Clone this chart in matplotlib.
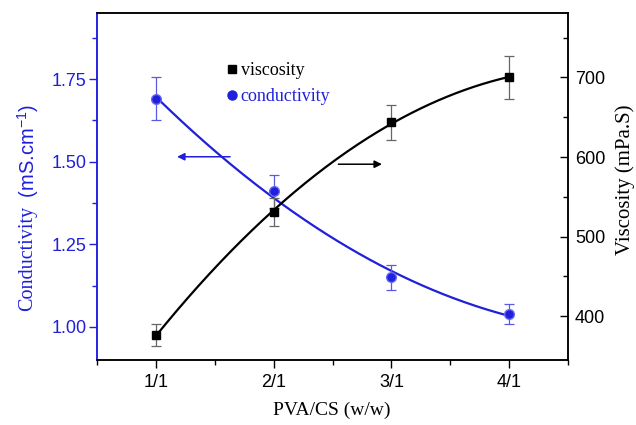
import numpy as np
import matplotlib
matplotlib.use("Agg")
import matplotlib.pyplot as plt
from matplotlib.ticker import MultipleLocator, FixedLocator
from matplotlib.lines import Line2D

plt.rcParams['mathtext.fontset'] = 'custom'
plt.rcParams['mathtext.rm'] = 'Liberation Sans'
plt.rcParams['mathtext.default'] = 'rm'

# ---- data ----
ratio_labels = ['1/1', '2/1', '3/1', '4/1']
ratio_x = [1, 2, 3, 4]
conductivity = [1.69, 1.41, 1.15, 1.04]
conductivity_err = [0.065, 0.05, 0.037, 0.03]
viscosity = [376, 531, 644, 700]
viscosity_err = [14, 18, 22, 27]

BLUE = '#1f1fdc'
SANS = 'Liberation Sans'
SERIF = 'Liberation Serif'

W, H = 636, 425
fig = plt.figure(figsize=(W / 100, H / 100), dpi=100)
ax = fig.add_axes([97 / W, 1 - 360 / H, (568 - 97) / W, (360 - 13) / H])
ax2 = ax.twinx()

# fitted curves
xs = np.linspace(ratio_x[0], ratio_x[-1], 200)
pc = np.polyfit(ratio_x, conductivity, 2)
pv = np.polyfit(ratio_x, viscosity, 2)

ax.plot(xs, np.polyval(pc, xs), color=BLUE, lw=1.6, zorder=3)
ax.errorbar(ratio_x, conductivity, yerr=conductivity_err, fmt='o', color=BLUE,
            mfc=BLUE, mec='#6a6af0', ms=7, ecolor='#5a5ae6', elinewidth=0.9,
            capsize=3.5, capthick=0.9, zorder=4)

ax2.plot(xs, np.polyval(pv, xs), color='black', lw=1.6, zorder=3)
ax2.errorbar(ratio_x, viscosity, yerr=viscosity_err, fmt='s', color='black',
             ms=6, ecolor='#666666', elinewidth=0.9, capsize=3.5, capthick=0.9,
             zorder=4)

# axes limits / ticks
ax.set_xlim(0.5, 4.5)
ax.set_ylim(0.9, 1.95)
ax2.set_ylim(345, 781)

ax.xaxis.set_major_locator(FixedLocator(ratio_x))
ax.set_xticklabels(ratio_labels)
ax.xaxis.set_minor_locator(MultipleLocator(0.5))
ax.yaxis.set_major_locator(FixedLocator([1.0, 1.25, 1.5, 1.75]))
ax.set_yticklabels(['1.00', '1.25', '1.50', '1.75'])
ax.yaxis.set_minor_locator(FixedLocator([1.125, 1.375, 1.625, 1.875]))
ax2.yaxis.set_major_locator(FixedLocator([400, 500, 600, 700]))
ax2.yaxis.set_minor_locator(FixedLocator([450, 550, 650, 750]))

ax.tick_params(axis='x', which='both', direction='out', top=False, colors='black',
               labelsize=13, pad=4)
ax.tick_params(axis='x', which='major', length=6, width=1)
ax.tick_params(axis='x', which='minor', length=3.5, width=1)
ax.tick_params(axis='y', which='both', direction='out', colors=BLUE,
               labelsize=13, pad=1.5)
ax.tick_params(axis='y', which='major', length=6, width=1)
ax.tick_params(axis='y', which='minor', length=3.5, width=1)
ax2.tick_params(axis='y', which='both', direction='in', colors='black',
                labelsize=13, pad=5)
ax2.tick_params(axis='y', which='major', length=6, width=1)
ax2.tick_params(axis='y', which='minor', length=3.5, width=1)

for lab in ax.get_xticklabels() + ax.get_yticklabels() + ax2.get_yticklabels():
    lab.set_fontfamily(SANS)

for a in (ax, ax2):
    for s in a.spines.values():
        s.set_linewidth(1.1)
        s.set_color('black')
    a.spines['left'].set_color(BLUE)

# arrows
ax.annotate('', xy=(1.18, 1.515), xytext=(1.63, 1.515),
            arrowprops=dict(arrowstyle='-|>', color=BLUE, lw=1.1,
                            mutation_scale=11, shrinkA=0, shrinkB=0))
ax2.annotate('', xy=(2.92, 591), xytext=(2.55, 591),
             arrowprops=dict(arrowstyle='-|>', color='black', lw=1.1,
                             mutation_scale=11, shrinkA=0, shrinkB=0))

# legend
handles = [Line2D([], [], marker='s', color='black', ls='none', ms=6),
           Line2D([], [], marker='o', color=BLUE, ls='none', ms=6.5)]
leg = ax2.legend(handles, ['viscosity', 'conductivity'], loc='upper left',
                 bbox_to_anchor=(227 / W, 1 - 62 / H), bbox_transform=fig.transFigure,
                 frameon=False, borderpad=0, borderaxespad=0, handlelength=0.6,
                 handletextpad=0.15, labelspacing=0.5,
                 prop={'family': SERIF, 'size': 13}, labelcolor=['black', BLUE])

# axis labels
fig.text(332 / W, 1 - 410 / H, 'PVA/CS (w/w)', ha='center', va='center',
         family=SERIF, fontsize=14)
fig.text(28 / W, 1 - 311 / H, 'Conductivity', rotation=90, rotation_mode='anchor',
         ha='left', va='center', color=BLUE, family=SERIF, fontsize=14.5)
fig.text(28 / W, 1 - 203 / H, ' (mS.cm$^{-1}$)', rotation=90, rotation_mode='anchor',
         ha='left', va='center', color=BLUE, family=SANS, fontsize=14.5)
fig.text(625 / W, 1 - 180 / H, 'Viscosity (mPa.S)', rotation=90,
         ha='center', va='center', color='black', family=SERIF, fontsize=15)

fig.savefig('out.png', dpi=100)
